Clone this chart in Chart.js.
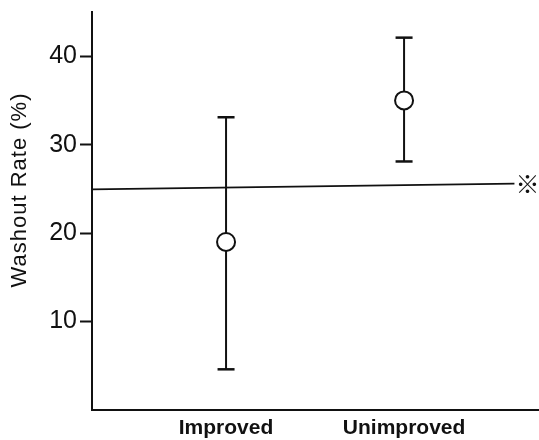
<!DOCTYPE html>
<html>
<head>
<meta charset="utf-8">
<script src="https://cdn.jsdelivr.net/npm/chart.js@4/dist/chart.umd.min.js"></script>
<style>
  body { margin: 0; background: #fff; }
</style>
</head>
<body>
<canvas id="washChart" width="539" height="440"></canvas>
<script>
// values
const categories = ['Improved', 'Unimproved'];
const catPos = [1, 2];
const means = [19.0, 35.0];
const upper = [33.1, 42.1];
const lower = [4.6, 28.1];
const refX = [0.247, 2.62];
const refY = [24.95, 25.6];
const yTicks = [10, 20, 30, 40];
const yTitle = 'Washout Rate (%)';

const ctx = document.getElementById('washChart');

// error bar datasets, one per category
let errSets = catPos.map((x, i) => ({
    type: 'line',
    data: [{ x: x, y: lower[i] }, { x: x, y: upper[i] }],
    borderColor: '#111',
    borderWidth: 2,
    pointStyle: 'line',
    pointRadius: 8.5,
    pointBorderWidth: 2.5,
    pointBorderColor: '#111',
    fill: false
}));

// the ※ mark at the end of the reference line, and the y title
const markPlugin = {
    id: 'markPlugin',
    afterDatasetsDraw(chart) {
        let c = chart.ctx;
        let px = chart.scales.x.getPixelForValue(refX[1]);
        let py = chart.scales.y.getPixelForValue(refY[1]);
        c.save();
        c.fillStyle = '#111';
        c.font = '24px "Noto Sans CJK JP"';
        c.textAlign = 'left';
        c.textBaseline = 'middle';
        c.fillText('※', px + 1, py);
        c.restore();

        c.save();
        c.fillStyle = '#111';
        c.font = '22px "Liberation Sans", Arial';
        c.letterSpacing = '1px';
        c.translate(20, 190);
        c.rotate(-Math.PI / 2);
        c.textAlign = 'center';
        c.textBaseline = 'middle';
        c.fillText(yTitle, 0, 0);
        c.restore();
    }
};

new Chart(ctx, {
    type: 'scatter',
    data: {
        datasets: [
            {
                data: catPos.map((x, i) => ({ x: x, y: means[i] })),
                backgroundColor: '#fff',
                borderColor: '#111',
                borderWidth: 2,
                pointRadius: 9,
                pointHoverRadius: 9
            },
            ...errSets,
            {
                type: 'line',
                data: [{ x: refX[0], y: refY[0] }, { x: refX[1], y: refY[1] }],
                borderColor: '#111',
                borderWidth: 1.6,
                pointRadius: 0,
                fill: false
            }
        ]
    },
    options: {
        responsive: false,
        animation: false,
        layout: { autoPadding: false, padding: { top: 12, right: 0, left: 0, bottom: 0 } },
        plugins: {
            legend: { display: false },
            tooltip: { enabled: false }
        },
        scales: {
            x: {
                type: 'linear',
                min: 0.247,
                max: 2.758,
                afterBuildTicks: (scale) => { scale.ticks = catPos.map(v => ({ value: v })); },
                afterFit: (scale) => {
                    scale.height = 30;
                    scale.paddingLeft = 0;
                    scale.paddingRight = 0;
                },
                ticks: {
                    callback: (v) => categories[catPos.indexOf(v)],
                    color: '#111',
                    font: { family: '"Liberation Sans", Arial', size: 21, weight: 'bold' },
                    padding: 6,
                    maxRotation: 0
                },
                grid: { drawOnChartArea: false, drawTicks: false },
                border: { color: '#111', width: 2 }
            },
            y: {
                min: 0,
                max: 45,
                afterBuildTicks: (scale) => { scale.ticks = yTicks.map(v => ({ value: v })); },
                afterFit: (scale) => {
                    scale.width = 92;
                    scale.paddingTop = 0;
                    scale.paddingBottom = 0;
                },
                ticks: {
                    color: '#111',
                    font: { family: '"Liberation Sans Narrow", "Liberation Sans", Arial', size: 25 },
                    padding: 3
                },
                grid: { drawOnChartArea: false, tickLength: 12, color: '#111', tickWidth: 2 },
                border: { color: '#111', width: 2 }
            }
        }
    },
    plugins: [markPlugin]
});
</script>
</body>
</html>
